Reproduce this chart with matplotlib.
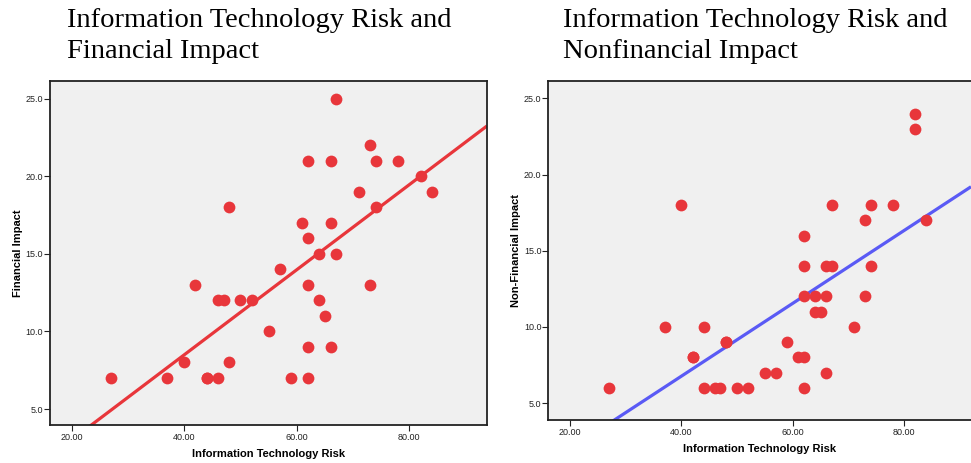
import numpy as np
import matplotlib
matplotlib.use("Agg")
import matplotlib.pyplot as plt

# IT risk score vs. financial impact (one point per respondent)
it_risk_fin = [27, 37, 40, 42, 44, 44, 46, 46, 47, 48, 48, 50, 52, 55, 57, 59, 61,
               62, 62, 62, 62, 62, 64, 64, 65, 66, 66, 66, 67, 67, 71, 73, 73, 74,
               74, 78, 82, 84]
financial = [7, 7, 8, 13, 7, 7, 7, 12, 12, 18, 8, 12, 12, 10, 14, 7, 17,
             21, 16, 13, 9, 7, 15, 12, 11, 21, 17, 9, 25, 15, 19, 22, 13, 21,
             18, 21, 20, 19]

# IT risk score vs. non-financial impact
it_risk_nonfin = [27, 37, 40, 42, 42, 44, 44, 46, 47, 48, 48, 50, 52, 55, 57, 59,
                  61, 62, 62, 62, 62, 62, 64, 64, 65, 66, 66, 66, 67, 67, 71, 73,
                  73, 74, 74, 78, 82, 82, 84]
nonfinancial = [6, 10, 18, 8, 8, 10, 6, 6, 6, 9, 9, 6, 6, 7, 7, 9,
                8, 8, 16, 14, 12, 6, 12, 11, 11, 14, 12, 7, 14, 18, 10, 17,
                12, 18, 14, 18, 24, 23, 17]

x_ticks = [20, 40, 60, 80]
y_ticks = [5, 10, 15, 20, 25]

dot_color = "#E8363B"
bg_color = "#F0F0F0"


def draw_panel(ax, x, y, line_color, xlim, ylim, ylabel):
    ax.set_facecolor(bg_color)
    ax.scatter(x, y, s=72, color=dot_color, zorder=3, linewidths=0)

    # least-squares fit line across the full x range
    slope, intercept = np.polyfit(x, y, 1)
    xs = np.array(xlim)
    ax.plot(xs, slope * xs + intercept, color=line_color, lw=2.3, zorder=2,
            solid_capstyle="butt")

    ax.set_xlim(xlim)
    ax.set_ylim(ylim)
    ax.set_xticks(x_ticks)
    ax.set_xticklabels(["%.2f" % v for v in x_ticks])
    ax.set_yticks(y_ticks)
    ax.set_yticklabels(["%.1f" % v for v in y_ticks])
    ax.tick_params(axis="x", length=4, width=0.8, pad=2, labelsize=6.5, colors="#222222")
    ax.tick_params(axis="y", length=4, width=0.8, pad=1, labelsize=6.5, colors="#222222")
    for sp in ax.spines.values():
        sp.set_linewidth(1.3)
        sp.set_color("#222222")
    ax.set_xlabel("Information Technology Risk", fontsize=8, fontweight="bold",
                  family="Liberation Sans", labelpad=5)
    ax.set_ylabel(ylabel, fontsize=8, fontweight="bold", family="Liberation Sans",
                  labelpad=2)


plt.rcParams["font.family"] = ["Liberation Sans", "DejaVu Sans"]

fig = plt.figure(figsize=(9.71, 4.63), dpi=100)

ax1 = fig.add_axes([0.0515, 0.0821, 0.450, 0.743])
draw_panel(ax1, it_risk_fin, financial, "#E8363B", (16.15, 93.8), (3.97, 26.14),
           "Financial Impact")

ax2 = fig.add_axes([0.5647, 0.0929, 0.4353, 0.732])
draw_panel(ax2, it_risk_nonfin, nonfinancial, "#5A5AF5", (16.1, 92.0), (3.9, 26.13),
           "Non-Financial Impact")
ax2.spines["right"].set_visible(False)

fig.text(67 / 971, 1 - 8 / 463, "Information Technology Risk and\nFinancial Impact",
         family="Liberation Serif", fontsize=20.5, va="top", ha="left",
         linespacing=1.32)
fig.text(563 / 971, 1 - 8 / 463, "Information Technology Risk and\nNonfinancial Impact",
         family="Liberation Serif", fontsize=20.5, va="top", ha="left",
         linespacing=1.32)

fig.savefig("out.png", dpi=100)
